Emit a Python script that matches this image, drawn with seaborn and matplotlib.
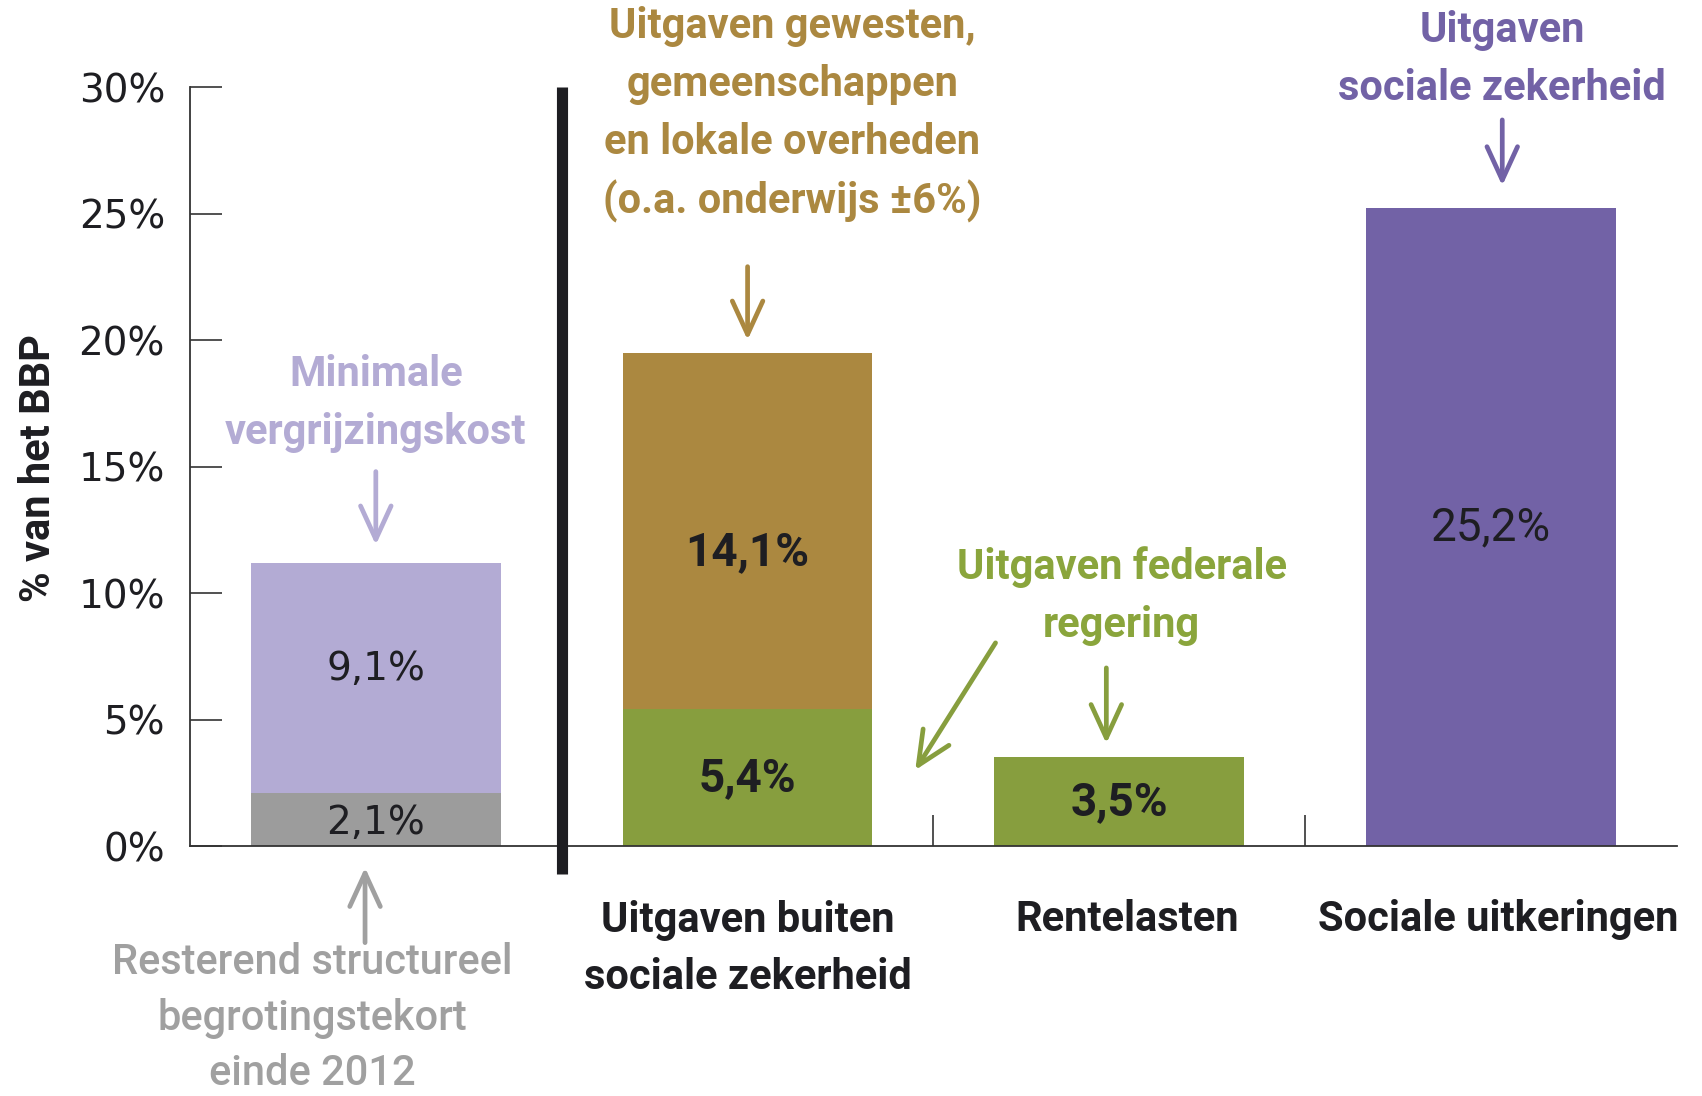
import matplotlib
matplotlib.use("Agg")
import matplotlib.pyplot as plt
import seaborn as sns
import pandas as pd
from matplotlib import font_manager as fm

# ---------------- data ----------------
categories = ["Begrotingstekort", "Uitgaven buiten\nsociale zekerheid", "Rentelasten", "Sociale uitkeringen"]
base_values = [2.1, 5.4, 3.5, 25.2]
top_values = [9.1, 14.1, 0.0, 0.0]
base_labels = ["2,1%", "5,4%", "3,5%", "25,2%"]
top_labels = ["9,1%", "14,1%", "", ""]
category_labels = ["", "Uitgaven buiten\nsociale zekerheid", "Rentelasten", "Sociale uitkeringen"]
yticks = [0, 5, 10, 15, 20, 25, 30]
ytick_labels = ["0%", "5%", "10%", "15%", "20%", "25%", "30%"]

GRAY = "#9c9c9c"
LAVENDER = "#b3abd4"
TAN = "#ab8840"
GREEN = "#879e3e"
PURPLE = "#7262a6"
DARK = "#1e1e22"
base_colors = [GRAY, GREEN, GREEN, PURPLE]
top_colors = [LAVENDER, TAN, GREEN, PURPLE]

# small label nudges (in % units) to match the reference placement
base_nudge = [-0.15, 0.0, 0.0, 0.0]
top_nudge = [0.35, -0.85, 0.0, 0.0]


def pick(cands):
    for c in cands:
        try:
            fm.findfont(fm.FontProperties(family=c), fallback_to_default=False)
            return c
        except Exception:
            pass
    return "DejaVu Sans"


sns.set_theme(style="white")
COND = pick(["Roboto", "Liberation Sans", "Open Sans"])
WIDE = "DejaVu Sans"
plt.rcParams["font.family"] = [WIDE]

df = pd.DataFrame({
    "cat": categories,
    "base": base_values,
    "top": top_values,
})
df["total"] = df["base"] + df["top"]

fig = plt.figure(figsize=(17.02, 10.96), dpi=100)
ax = fig.add_axes([0.1116, 0.2281, 0.9853 - 0.1116, 0.9206 - 0.2281])

sns.barplot(data=df, x="cat", y="total", hue="cat",
            palette=dict(zip(categories, top_colors)), width=0.672,
            saturation=1, legend=False, ax=ax, linewidth=0)
sns.barplot(data=df, x="cat", y="base", hue="cat",
            palette=dict(zip(categories, base_colors)), width=0.672,
            saturation=1, legend=False, ax=ax, linewidth=0)

ax.set_xlim(-0.5, 3.5)
ax.set_ylim(0, 30)
sns.despine(ax=ax, top=True, right=True)
for s in ["left", "bottom"]:
    ax.spines[s].set_color("#333333")
    ax.spines[s].set_linewidth(1.3)

ax.set_yticks(yticks)
ax.set_yticklabels(ytick_labels, fontsize=28, color=DARK, family=WIDE)
ax.tick_params(axis="y", direction="in", length=23, width=1.2, color="#333333", pad=18, left=True)
ax.set_xticks([0.5, 1.5, 2.5])
ax.set_xticklabels([])
ax.tick_params(axis="x", direction="in", length=22, width=1.2, color="#333333", bottom=True)
ax.set_xlabel("")
ax.set_ylabel("")
fig.text(0.0229, 0.573, "% van het BBP", rotation=90, ha="center", va="center",
         fontsize=30, fontweight="bold", family=COND, color=DARK)

# thick separator
ax.plot([0.5, 0.5], [-1.1, 30], color=DARK, lw=8, solid_capstyle="butt", clip_on=False, zorder=5)

# values inside bars
for i in range(len(categories)):
    fam = WIDE if i == 0 else COND
    wt = "normal" if i in (0, 3) else "bold"
    fs = 28 if i == 0 else 33
    ax.text(i, base_values[i] / 2 + base_nudge[i], base_labels[i], ha="center", va="center",
            fontsize=fs, family=fam, fontweight=wt, color=DARK)
    if top_labels[i]:
        ax.text(i, base_values[i] + top_values[i] / 2 + top_nudge[i], top_labels[i],
                ha="center", va="center", fontsize=fs, family=fam, fontweight=wt, color=DARK)

# category labels below axis
for i, lab in enumerate(category_labels):
    if lab:
        nlines = lab.count("\n") + 1
        yc = -2.92 - (nlines - 1) * 2.27 / 2
        ax.text(i + (0.02 if i > 1 else 0), yc, lab, ha="center", va="center", fontsize=30,
                fontweight="bold", family=COND, color=DARK, linespacing=1.5, clip_on=False)


def arrow(tail, head, color):
    ax.annotate("", xy=head, xytext=tail, xycoords="data", textcoords="data",
                annotation_clip=False,
                arrowprops=dict(arrowstyle="->,head_length=1.2,head_width=0.55", lw=3.4,
                                color=color, shrinkA=0, shrinkB=0, mutation_scale=20))


def note(x, y, s, color, weight="bold", size=30, ls=1.52):
    ax.text(x, y, s, ha="center", va="center", fontsize=size, fontweight=weight,
            family=COND, color=color, linespacing=ls, clip_on=False)


note(0.0, 17.5, "Minimale\nvergrijzingskost", LAVENDER)
arrow((0.0, 14.8), (0.0, 11.9), LAVENDER)

note(1.12, 28.9, "Uitgaven gewesten,\ngemeenschappen\nen lokale overheden\n(o.a. onderwijs ±6%)", TAN)
arrow((1.0, 22.9), (1.0, 20.0), TAN)

note(3.03, 31.1, "Uitgaven\nsociale zekerheid", PURPLE)
arrow((3.03, 28.7), (3.03, 26.1), PURPLE)

note(2.006, 9.87, "Uitgaven federale\nregering", "#8aa53c")
arrow((1.667, 8.03), (1.451, 3.0), GREEN)
arrow((1.965, 7.04), (1.965, 4.05), GREEN)

arrow((-0.029, -3.82), (-0.029, -0.85), "#a0a0a0")
note(-0.172, -6.8, "Resterend structureel\nbegrotingstekort\neinde 2012", "#a0a0a0",
     weight="medium", size=30, ls=1.45)

fig.savefig("out.png", dpi=100, facecolor="white")
